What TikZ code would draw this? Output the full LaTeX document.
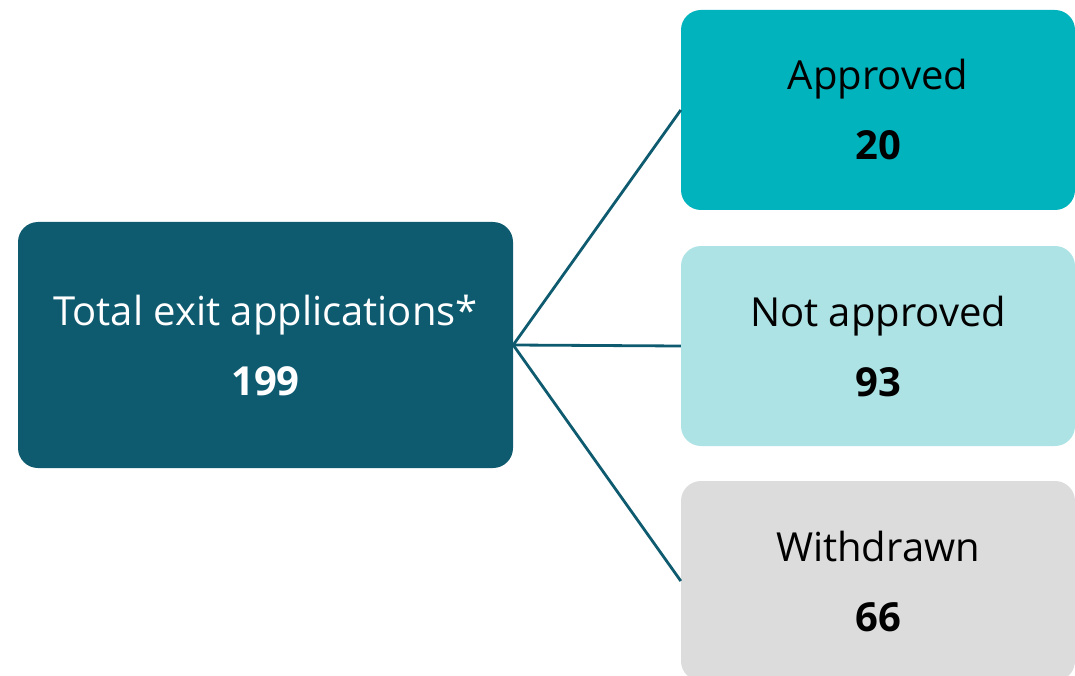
\documentclass[tikz,border=0pt]{standalone}
\usepackage{fontspec}
\setmainfont{Open Sans}
\usepackage{tikz}

\definecolor{totalteal}{HTML}{0E5B70}
\definecolor{apprteal}{HTML}{00B3BC}
\definecolor{notteal}{HTML}{AEE3E5}
\definecolor{wdgrey}{HTML}{DCDCDC}

\begin{document}
\begin{tikzpicture}[x=1pt,y=-1pt,
  outcome/.style={rectangle,rounded corners=20pt,minimum width=394pt,minimum height=200pt,
    inner sep=0pt,align=center,text=black,font=\fontsize{40}{70}\selectfont},
  link/.style={draw=totalteal,line width=2.8pt}]
  \useasboundingbox (0,0) rectangle (1075,676);
  \clip (0,0) rectangle (1075,676);
  \node[outcome,fill=totalteal,text=white,minimum width=495pt,minimum height=246pt] (total) at (265.5,345) {Total exit applications*\\\textbf{199}};
  \node[outcome,fill=apprteal] (appr) at (878,110) {Approved\\\textbf{20}};
  \node[outcome,fill=notteal] (notappr) at (878,346) {Not approved\\\textbf{93}};
  \node[outcome,fill=wdgrey] (wdrawn) at (878,581) {Withdrawn\\\textbf{66}};
  \draw[link] (total.east) -- (appr.west);
  \draw[link] (total.east) -- (notappr.west);
  \draw[link] (total.east) -- (wdrawn.west);
\end{tikzpicture}
\end{document}
